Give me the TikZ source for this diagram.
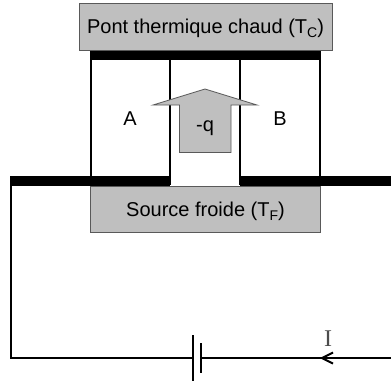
\documentclass[tikz,border=0pt]{standalone}
\usepackage{fontspec}
\setmainfont{Liberation Sans}
\newfontfamily\serifI{Liberation Serif}
\usetikzlibrary{arrows}
\tikzset{
  graybox/.style={draw=black!65,line width=0.6pt,fill=black!25,inner sep=0pt},
  bar/.style={line width=7.5pt},
  wire/.style={line width=1.5pt},
  lab/.style={inner sep=0.75pt,anchor=base,font=\fontsize{15pt}{18pt}\selectfont}
}
\begin{document}
\begin{tikzpicture}[x=0.75pt,y=0.75pt,yscale=-1,xscale=1]
    \useasboundingbox (0,0) rectangle (391,383);

    %Wire nodes
    \coordinate (topL) at (89.5,55);
    \coordinate (topR) at (320.5,55);
    \coordinate (barL) at (10,181);
    \coordinate (barA) at (169.5,181);
    \coordinate (barB) at (240,181);
    \coordinate (barR) at (391,181);
    \coordinate (cornerT) at (11,181);
    \coordinate (cornerB) at (11,358);
    \coordinate (plateP) at (193,358);
    \coordinate (plateN) at (201,358);
    \coordinate (wireR) at (391,358);
    \coordinate (tipI) at (322,358);

    %Legs
    \draw [wire] (90.5,55) -- (90.5,181);
    \draw [wire] (169.5,55) -- (169.5,185);
    \draw [wire] (240,55) -- (240,185);
    \draw [wire] (319.5,55) -- (319.5,181);

    %Bars
    \draw [bar] (topL) -- (topR);
    \draw [bar] (barL) -- (barA);
    \draw [bar] (barB) -- (barR);

    %Boxes
    \node (hot) [graybox,minimum width=189.75pt,minimum height=35.25pt,anchor=north west] at (79,3) {};
    \node (cold) [graybox,minimum width=172.5pt,minimum height=34.5pt,anchor=north west] at (90,186) {};

    %Arrow
    \draw [draw=black!65,line width=0.6pt,fill=black!25] (205,89) -- (257,105) -- (231,105) -- (231,152.5) -- (179.5,152.5) -- (179.5,105) -- (153,105) -- cycle ;

    %Circuit
    \draw [wire] (cornerT) -- (cornerB) -- (plateP);
    \draw [wire] (wireR) -- (plateN);
    \draw [wire] (193,335) -- (193,381);
    \draw [wire] (201,343) -- (201,373);
    \draw [wire] (333,352.5) -- (tipI) -- (333,363.5);

    % Text Node
    \node (hotlab) [lab] at (205.5,33) {Pont thermique chaud (T\raisebox{-3.5pt}{\fontsize{10.5pt}{10.5pt}\selectfont C})};
    \node (coldlab) [lab] at (205.5,216) {Source froide (T\raisebox{-3.5pt}{\fontsize{10.5pt}{10.5pt}\selectfont F})};
    \node (labA) [lab] at (130,125) {A};
    \node (labB) [lab] at (280,125) {B};
    \node (labq) [lab] at (205,131) {-q};
    \node (labI) [inner sep=0.75pt,anchor=base,font=\serifI\fontsize{18pt}{20pt}\selectfont,text=black!70] at (328,346) {I};
\end{tikzpicture}
\end{document}
